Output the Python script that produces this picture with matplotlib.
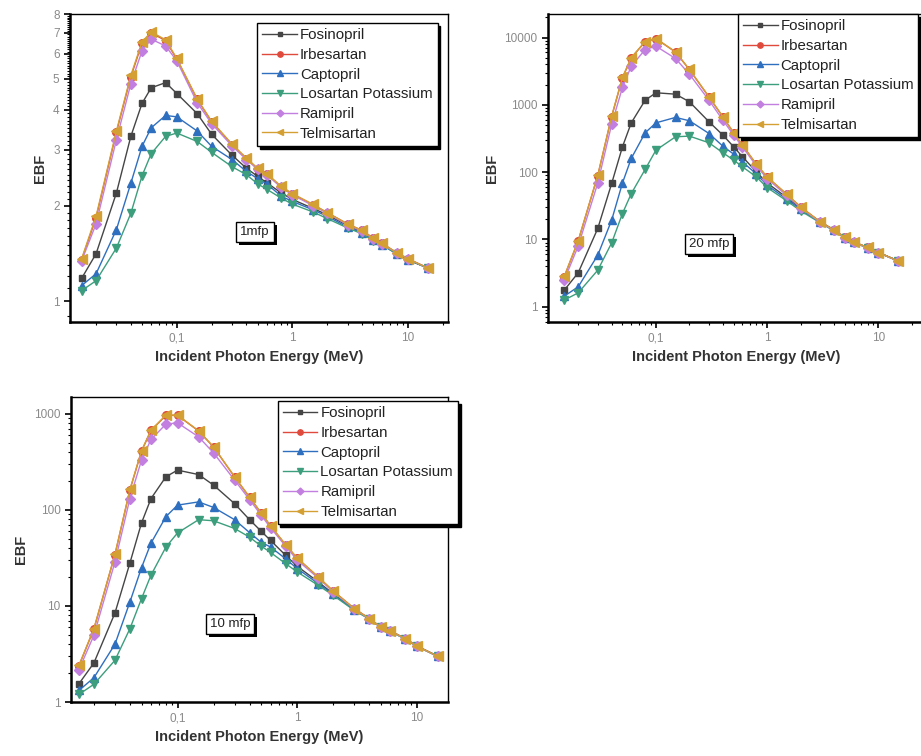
import matplotlib
matplotlib.use("Agg")
import matplotlib.pyplot as plt
import matplotlib.patheffects as pe
from matplotlib.ticker import FixedLocator, LogLocator, NullFormatter

plt.rcParams['font.family'] = ['Liberation Sans', 'DejaVu Sans']

# energie (MeV)
energy = [0.015, 0.02, 0.03, 0.04, 0.05, 0.06, 0.08, 0.1, 0.15, 0.2, 0.3, 0.4,
          0.5, 0.6, 0.8, 1, 1.5, 2, 3, 4, 5, 6, 8, 10, 15]

names = ["Fosinopril", "Irbesartan", "Captopril", "Losartan Potassium", "Ramipril", "Telmisartan"]

# 1 mfp
fos_1 = [1.18, 1.41, 2.19, 3.30, 4.19, 4.69, 4.87, 4.50, 3.89, 3.35, 2.88, 2.62, 2.47, 2.36, 2.19, 2.09, 1.96, 1.87, 1.73, 1.65, 1.57, 1.51, 1.41, 1.35, 1.27]
irb_1 = [1.35, 1.83, 3.40, 5.08, 6.48, 6.98, 6.60, 5.77, 4.31, 3.67, 3.11, 2.81, 2.61, 2.51, 2.29, 2.17, 2.01, 1.90, 1.75, 1.67, 1.58, 1.52, 1.42, 1.36, 1.27]
cap_1 = [1.12, 1.22, 1.68, 2.35, 3.07, 3.51, 3.84, 3.80, 3.43, 3.07, 2.79, 2.56, 2.43, 2.34, 2.14, 2.06, 1.94, 1.85, 1.71, 1.64, 1.56, 1.50, 1.41, 1.35, 1.27]
los_1 = [1.08, 1.16, 1.47, 1.89, 2.48, 2.91, 3.30, 3.38, 3.18, 2.94, 2.65, 2.50, 2.34, 2.25, 2.11, 2.02, 1.91, 1.82, 1.70, 1.63, 1.55, 1.50, 1.41, 1.35, 1.27]
ram_1 = [1.34, 1.75, 3.22, 4.83, 6.13, 6.67, 6.35, 5.70, 4.21, 3.62, 3.08, 2.79, 2.60, 2.50, 2.28, 2.16, 2.00, 1.89, 1.74, 1.66, 1.57, 1.51, 1.42, 1.36, 1.27]
tel_1 = [1.36, 1.85, 3.43, 5.13, 6.54, 7.03, 6.64, 5.80, 4.33, 3.68, 3.12, 2.82, 2.62, 2.52, 2.30, 2.18, 2.02, 1.90, 1.75, 1.67, 1.58, 1.52, 1.42, 1.36, 1.27]

# 20 mfp
fos_20 = [1.77, 3.2, 14.6, 68, 238, 540, 1170, 1510, 1440, 1110, 560, 355, 238, 169, 101, 69, 42, 29, 18.3, 13.8, 10.7, 9.2, 7.6, 6.4, 4.82]
irb_20 = [2.8, 9.5, 89, 670, 2520, 4980, 8650, 9600, 6080, 3330, 1305, 662, 382, 251, 130, 84.5, 46.8, 30.4, 18.3, 13.8, 10.7, 9.2, 7.6, 6.4, 4.82]
cap_20 = [1.44, 1.98, 5.85, 19.4, 69, 160, 384, 540, 650, 580, 375, 243, 185, 142, 94, 64, 39.6, 28, 17.9, 13.6, 10.6, 9.1, 7.5, 6.4, 4.82]
los_20 = [1.26, 1.61, 3.5, 8.9, 24.3, 48, 110, 212, 335, 343, 273, 194, 151, 120, 85, 59, 37.5, 26.6, 17.7, 13.4, 10.5, 9.0, 7.5, 6.35, 4.8]
ram_20 = [2.5, 8.0, 69, 515, 1810, 3750, 6620, 7430, 4880, 2850, 1170, 590, 355, 237, 124, 80, 45, 29.5, 18.0, 13.6, 10.6, 9.1, 7.5, 6.35, 4.8]
tel_20 = [2.85, 9.6, 90, 680, 2560, 5030, 8700, 9660, 6120, 3350, 1315, 665, 384, 252, 131, 85, 47, 30.5, 18.3, 13.8, 10.7, 9.2, 7.6, 6.4, 4.82]

# 10 mfp
fos_10 = [1.55, 2.55, 8.45, 28, 73, 131, 221, 259, 233, 181, 116, 79, 60, 48, 33.7, 25.9, 17.8, 13.4, 9.2, 7.4, 6.04, 5.5, 4.57, 3.83, 2.99]
irb_10 = [2.39, 5.75, 34.2, 161, 408, 670, 962, 963, 662, 451, 220, 135, 92.5, 67.8, 43.3, 31.4, 20, 14.3, 9.4, 7.4, 6.04, 5.5, 4.57, 3.83, 2.99]
cap_10 = [1.32, 1.79, 4.0, 11, 25, 45, 85, 112, 121, 106, 79, 58, 46, 41, 31, 24.5, 17.1, 13.2, 9.1, 7.35, 6.0, 5.45, 4.55, 3.82, 2.99]
los_10 = [1.2, 1.53, 2.72, 5.8, 11.9, 20.9, 41, 57.5, 79, 77, 64, 52, 42, 36, 27.6, 22.6, 16.4, 12.9, 9.0, 7.3, 5.98, 5.42, 4.53, 3.8, 2.98]
ram_10 = [2.17, 4.95, 28.7, 131, 329, 540, 780, 805, 575, 392, 204, 128, 88, 65, 42, 30, 19.5, 14.0, 9.3, 7.35, 6.0, 5.45, 4.55, 3.82, 2.99]
tel_10 = [2.41, 5.8, 34.5, 163, 412, 676, 968, 968, 665, 453, 221, 136, 93, 68, 43.5, 31.6, 20, 14.3, 9.4, 7.4, 6.04, 5.5, 4.57, 3.83, 2.99]

x_ticks = [0.1, 1, 10]
x_ticklabels = ["0,1", "1", "10"]
y_ticks_1 = [1, 2, 3, 4, 5, 6, 7, 8]
y_ticks_20 = [1, 10, 100, 1000, 10000]
y_ticks_10 = [1, 10, 100, 1000]

colors = ['#454545', '#e04a3c', '#2f6fbf', '#3c9e7c', '#c27fe0', '#d4a033']
markers = ['s', 'o', '^', 'v', 'D', '<']
msizes = [5, 5.5, 6, 6, 5, 6.5]


def panel(fig, rect, series, xlim, ylim, yticks, label, leg_xy, box_xy):
    ax = fig.add_axes(rect)
    for i, vals in enumerate(series):
        ax.plot(energy, vals, color=colors[i], marker=markers[i], markersize=msizes[i],
                linewidth=1, label=names[i])
    ax.set_xscale('log')
    ax.set_yscale('log')
    ax.set_xlim(*xlim)
    ax.set_ylim(*ylim)

    ax.xaxis.set_major_locator(FixedLocator(x_ticks))
    ax.set_xticklabels(x_ticklabels)
    ax.xaxis.set_minor_locator(LogLocator(base=10, subs=range(2, 10)))
    ax.xaxis.set_minor_formatter(NullFormatter())

    ax.yaxis.set_major_locator(FixedLocator(yticks))
    ax.set_yticklabels([str(t) for t in yticks])
    if yticks == y_ticks_1:
        ax.yaxis.set_minor_locator(FixedLocator([0.9 + 0.1 * k for k in range(72)]))
    else:
        ax.yaxis.set_minor_locator(LogLocator(base=10, subs=range(2, 10)))
    ax.yaxis.set_minor_formatter(NullFormatter())

    ax.tick_params(which='major', direction='out', length=4, width=1.2, labelsize=8.5,
                   colors='black')
    ax.tick_params(which='major', labelcolor='#8a8a8a')
    ax.tick_params(which='minor', direction='out', length=2, width=0.8)
    for s in ['left', 'bottom']:
        ax.spines[s].set_linewidth(1.8)
    for s in ['top', 'right']:
        ax.spines[s].set_linewidth(1.0)

    ax.set_xlabel("Incident Photon Energy (MeV)", fontsize=10.5, fontweight='bold', color='#333333')
    ax.set_ylabel("EBF", fontsize=10.5, fontweight='bold', color='#333333')

    leg = ax.legend(loc='upper left', bbox_to_anchor=leg_xy, borderaxespad=0, fontsize=10.8,
                    fancybox=False, framealpha=1, edgecolor='black', handlelength=2.3,
                    handletextpad=0.2, labelspacing=0.38, borderpad=0.35, markerscale=0.7,
                    shadow={'facecolor': 'black', 'edgecolor': 'black', 'alpha': 1})
    leg.get_frame().set_linewidth(1.0)
    for t in leg.get_texts():
        t.set_color('#222222')

    # casella di testo con ombra
    txt = ax.text(box_xy[0], box_xy[1], label, fontsize=9.5, ha='center', va='center',
                  transform=ax.transAxes, color='#222222',
                  bbox=dict(boxstyle='square,pad=0.3', facecolor='white', edgecolor='black', linewidth=1))
    txt.get_bbox_patch().set_path_effects([
        pe.SimplePatchShadow(offset=(2.2, -2.2), shadow_rgbFace='black', alpha=1),
        pe.Normal()])
    return ax


fig = plt.figure(figsize=(9.21, 7.56), dpi=100)

panel(fig, [0.076, 0.574, 0.4104, 0.4074],
      [fos_1, irb_1, cap_1, los_1, ram_1, tel_1],
      (0.0119, 22.2), (0.86, 8.0), y_ticks_1, "1mfp", (0.495, 0.971), (0.489, 0.292))

panel(fig, [0.595, 0.574, 0.409, 0.4074],
      [fos_20, irb_20, cap_20, los_20, ram_20, tel_20],
      (0.0107, 26.1), (0.593, 22300), y_ticks_20, "20 mfp", (0.504, 1.0), (0.427, 0.253))

panel(fig, [0.077, 0.0714, 0.409, 0.4034],
      [fos_10, irb_10, cap_10, los_10, ram_10, tel_10],
      (0.01285, 18.1), (1.0, 1493), y_ticks_10, "10 mfp", (0.549, 0.987), (0.422, 0.256))

fig.savefig("out.png", dpi=100)
